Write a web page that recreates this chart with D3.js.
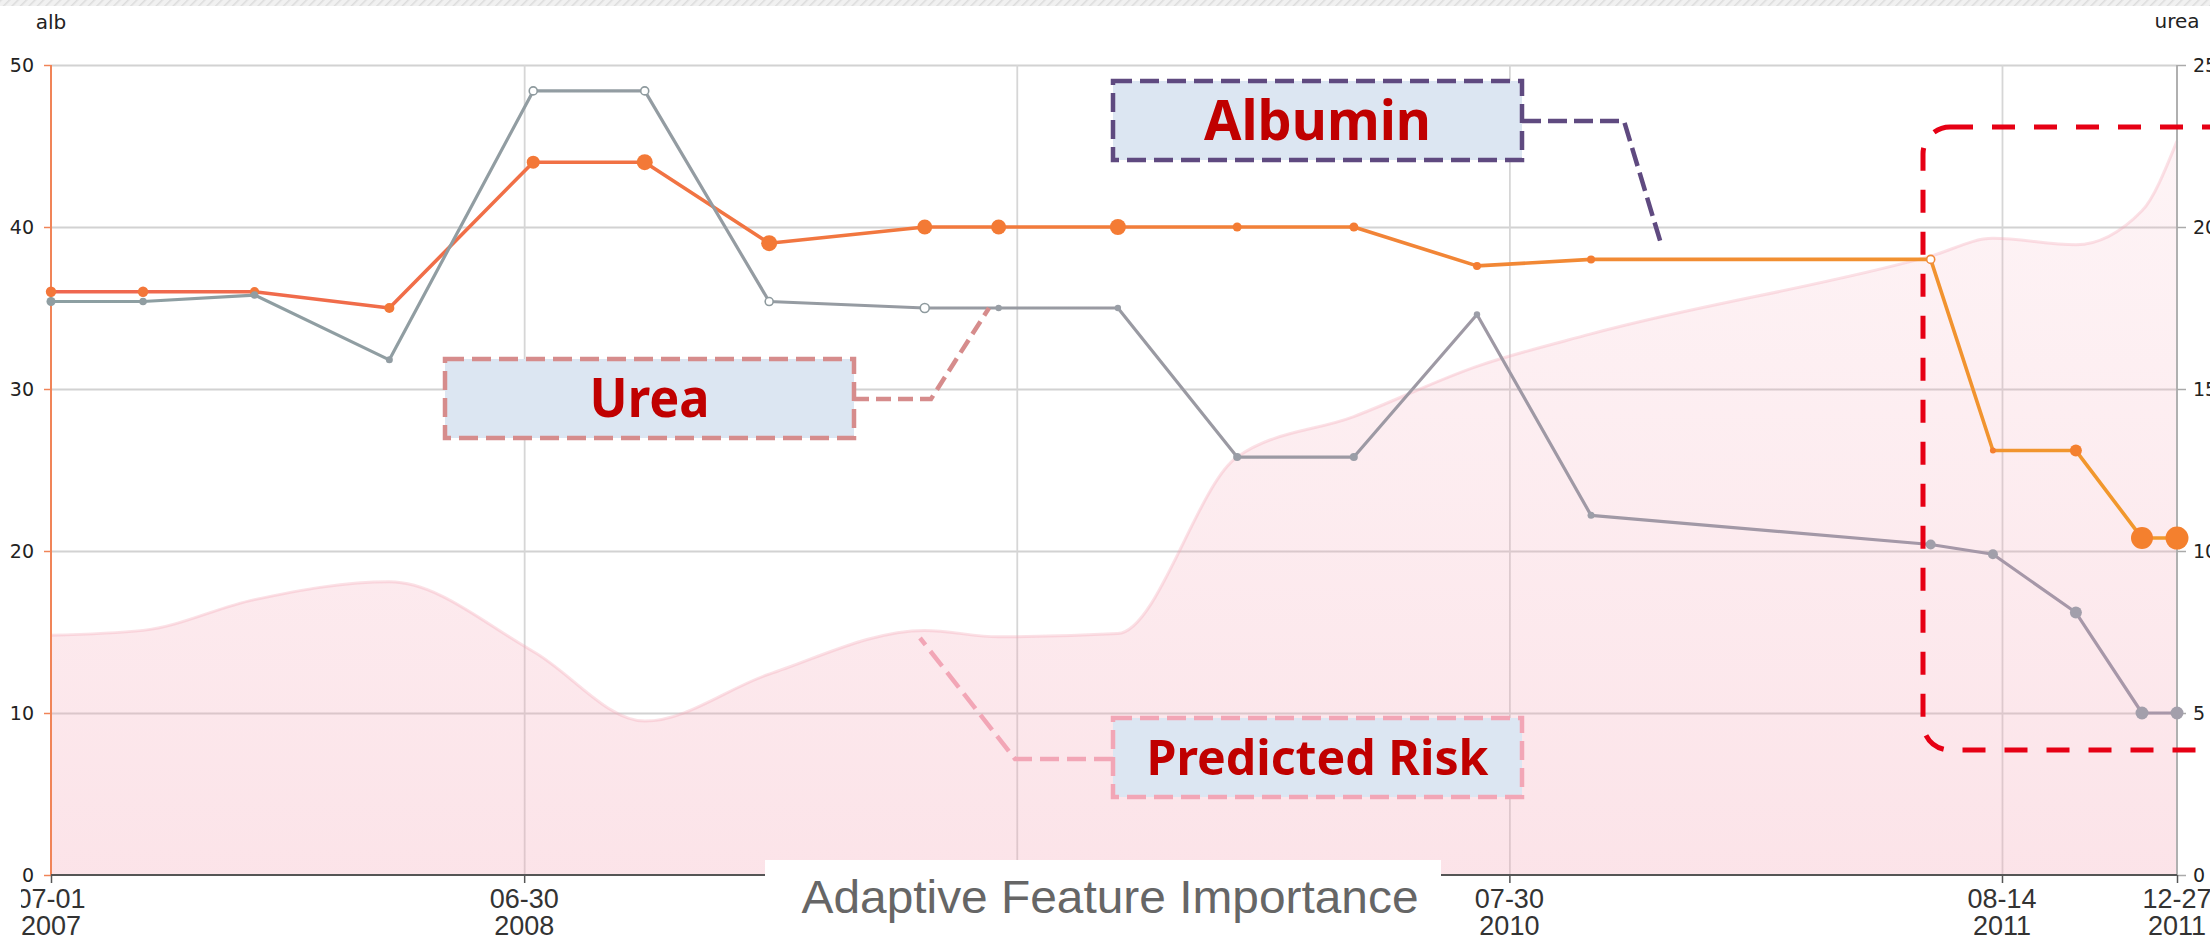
<!DOCTYPE html>
<html><head><meta charset="utf-8">
<script src="https://cdn.jsdelivr.net/npm/d3@7/dist/d3.min.js"></script>
<style>html,body{margin:0;padding:0;background:#fff;overflow:hidden}</style>
</head><body><svg id="c" width="2210" height="937"></svg>
<script>
// ---------------- data ----------------
const dates = ["2007-07-01","2007-09-10","2007-12-05","2008-03-18","2008-07-07","2008-10-01","2009-01-05","2009-05-05","2009-07-01","2009-10-01","2010-01-01","2010-04-01","2010-07-05","2010-10-01","2011-06-20","2011-08-07","2011-10-10","2011-11-30","2011-12-27"];
const albumin = [36, 36, 36, 35, 44, 44, 39, 40, 40, 40, 40, 40, 37.6, 38, 38, 26.2, 26.2, 20.8, 20.8];
const urea = [17.7, 17.7, 17.9, 15.9, 24.2, 24.2, 17.7, 17.5, 17.5, 17.5, 12.9, 12.9, 17.3, 11.1, 10.2, 9.9, 8.1, 5.0, 5.0];
const risk = [14.8, 15.1, 17.0, 18.1, 13.8, 9.5, 12.4, 15.1, 14.7, 14.9, 25.8, 28.3, 31.4, 33.4, 38.2, 39.3, 38.9, 41.0, 45.3];
const albImportance = [5.2, 5.2, 4.7, 5, 6.5, 8, 8, 7.5, 7.5, 8, 4.5, 4.5, 4, 4, 4, 3, 6, 11, 11.5];
const ureaImportance = [4.5, 3.8, 3.8, 3.5, 4, 4, 4, 4.5, 3.2, 3.2, 4, 4, 3.2, 3.5, 5, 5, 6, 6.5, 6.5];
const albImputed = [false,false,false,false,false,false,false,false,false,false,false,false,false,false,true,false,false,false,false];
const ureaImputed = [false,false,false,false,true,true,true,true,false,false,false,false,false,false,false,false,false,false,false];
const tickDates = ["2007-07-01","2008-06-30","2009-07-15","2010-07-30","2011-08-14","2011-12-27"];
const hiddenTick = "2009-07-15"; // its label lies under the title box
const leftTicks = [0, 10, 20, 30, 40, 50];
const rightTicks = [0, 5, 10, 15, 20, 25];
const leftName = "alb", rightName = "urea";
const title = "Adaptive Feature Importance";
const notes = ["Albumin", "Urea", "Predicted Risk"];

// ---------------- layout ----------------
const L = 51, R = 2177, T = 65, B = 875;
const parse = d3.timeParse("%Y-%m-%d");
const pts = dates.map((d, i) => ({date: parse(d), alb: albumin[i], urea: urea[i], risk: risk[i],
  as: albImportance[i], us: ureaImportance[i], ah: albImputed[i], uh: ureaImputed[i]}));
const x = d3.scaleTime().domain([parse(tickDates[0]), parse(tickDates[tickDates.length - 1])]).range([L, R]);
const yL = d3.scaleLinear().domain([0, 50]).range([B, T]);
const yR = d3.scaleLinear().domain([0, 25]).range([B, T]);

const svg = d3.select("#c");
const defs = svg.append("defs");

const pat = defs.append("pattern").attr("id", "hatch").attr("patternUnits", "userSpaceOnUse")
  .attr("width", 6).attr("height", 6).attr("patternTransform", "rotate(45)");
pat.append("rect").attr("width", 6).attr("height", 6).attr("fill", "#f1f1f1");
pat.append("line").attr("x1", 0).attr("y1", 0).attr("x2", 0).attr("y2", 6).attr("stroke", "#dcdcdc").attr("stroke-width", 3);

function grad(id, stops, vertical) {
  const g = defs.append("linearGradient").attr("id", id).attr("gradientUnits", "userSpaceOnUse");
  if (vertical) g.attr("x1", 0).attr("x2", 0).attr("y1", T).attr("y2", B);
  else g.attr("x1", L).attr("x2", R).attr("y1", 0).attr("y2", 0);
  stops.forEach(s => g.append("stop").attr("offset", s[0]).attr("stop-color", s[1]).attr("stop-opacity", s[2] == null ? 1 : s[2]));
}
grad("albG", [[0, "#ef6650"], [0.45, "#f27a3c"], [1, "#f1992c"]]);
grad("ureaG", [[0, "#8c9fa2"], [0.5, "#999aa2"], [1, "#a897a9"]]);
grad("riskG", [[0, "#f4a3b4", 0.10], [0.5, "#f4a3b4", 0.20], [1, "#f4a3b4", 0.30]], true);

const clip = defs.append("clipPath").attr("id", "xclip");
clip.append("rect").attr("x", 21).attr("y", 876).attr("width", 2189).attr("height", 70);

svg.append("rect").attr("x", 0).attr("y", 0).attr("width", 2210).attr("height", 6).attr("fill", "url(#hatch)");

// ---------------- grid ----------------
const gGrid = svg.append("g");
gGrid.append("g").attr("transform", `translate(${L},0)`)
  .call(d3.axisLeft(yL).tickValues(leftTicks.filter(v => v > 0)).tickSize(-(R - L)).tickFormat(""))
  .call(g => g.select(".domain").remove())
  .call(g => g.selectAll("line").attr("stroke", "#d2d2d2").attr("stroke-width", 2));
gGrid.append("g").attr("transform", `translate(0,${T})`)
  .call(d3.axisBottom(x).tickValues(tickDates.slice(1, -1).map(parse)).tickSize(B - T).tickFormat(""))
  .call(g => g.select(".domain").remove())
  .call(g => g.selectAll("line").attr("stroke", "#d6d6d6").attr("stroke-width", 1.8));

// ---------------- risk area ----------------
const area = d3.area().x(d => x(d.date)).y0(B).y1(d => yL(d.risk)).curve(d3.curveMonotoneX);
svg.append("path").datum(pts).attr("d", area).attr("fill", "url(#riskG)");
svg.append("path").datum(pts).attr("d", area.lineY1()).attr("fill", "none")
  .attr("stroke", "#f4a8b8").attr("stroke-opacity", 0.35).attr("stroke-width", 3);

// ---------------- axes ----------------
const axL = svg.append("g").attr("transform", `translate(${L},0)`)
  .call(d3.axisLeft(yL).tickValues(leftTicks).tickSize(7).tickPadding(10).tickFormat(d3.format("d")));
axL.select(".domain").attr("stroke", "#f08458").attr("stroke-width", 2).attr("d", `M0,${T}V${B}`);
axL.selectAll(".tick line").attr("stroke", "#f08458").attr("stroke-width", 1.5);
axL.selectAll(".tick text").attr("font-family", "DejaVu Sans, sans-serif").attr("font-size", 19).attr("fill", "#222").attr("dy", "0.35em");

const axR = svg.append("g").attr("transform", `translate(${R},0)`)
  .call(d3.axisRight(yR).tickValues(rightTicks).tickSize(9).tickPadding(7).tickFormat(d3.format("d")));
axR.select(".domain").attr("stroke", "#b0b0b0").attr("stroke-width", 2).attr("d", `M0,${T}V${B}`);
axR.selectAll(".tick line").attr("stroke", "#aaa").attr("stroke-width", 1.5);
axR.selectAll(".tick text").attr("font-family", "DejaVu Sans, sans-serif").attr("font-size", 19).attr("fill", "#222").attr("dy", "0.35em");

const axB = svg.append("g").attr("transform", `translate(0,${B})`)
  .call(d3.axisBottom(x).tickValues(tickDates.map(parse)).tickSize(8).tickFormat(""));
axB.select(".domain").attr("stroke", "#555").attr("stroke-width", 2).attr("d", `M${L},0H${R}`);
axB.selectAll(".tick line").attr("stroke", "#555").attr("stroke-width", 1.5);
const xl = svg.append("g").attr("clip-path", "url(#xclip)").attr("font-family", "Liberation Sans, Arial, sans-serif")
  .attr("font-size", 27).attr("fill", "#333").attr("text-anchor", "middle");
tickDates.filter(d => d !== hiddenTick).map(parse).forEach(d => {
  const t = xl.append("text").attr("x", x(d));
  t.append("tspan").attr("x", x(d)).attr("y", 908).text(d3.timeFormat("%m-%d")(d));
  t.append("tspan").attr("x", x(d)).attr("y", 935).text(d3.timeFormat("%Y")(d));
});

svg.append("text").attr("x", L).attr("y", 29).attr("text-anchor", "middle").attr("font-family", "DejaVu Sans, sans-serif")
  .attr("font-size", 20).attr("fill", "#222").text(leftName);
svg.append("text").attr("x", R).attr("y", 28).attr("text-anchor", "middle").attr("font-family", "DejaVu Sans, sans-serif")
  .attr("font-size", 20).attr("fill", "#222").text(rightName);

// ---------------- lines ----------------
const lineA = d3.line().x(d => x(d.date)).y(d => yL(d.alb));
const lineU = d3.line().x(d => x(d.date)).y(d => yR(d.urea));
svg.append("path").datum(pts).attr("d", lineA).attr("fill", "none").attr("stroke", "url(#albG)").attr("stroke-width", 3.6).attr("stroke-linejoin", "round");
const ucol = d3.interpolateRgb("#8f9da1", "#a39fab");
const acol = d3.interpolateRgb("#f3763a", "#f4802e");
svg.append("g").selectAll("circle").data(pts).join("circle")
  .attr("cx", d => x(d.date)).attr("cy", d => yL(d.alb)).attr("r", d => d.ah ? 4 : d.as)
  .attr("fill", d => d.ah ? "#fff" : acol((x(d.date) - L) / (R - L)))
  .attr("stroke", d => d.ah ? "#f08a3a" : "none").attr("stroke-width", 1.6);

svg.append("path").datum(pts).attr("d", lineU).attr("fill", "none").attr("stroke", "url(#ureaG)").attr("stroke-width", 3.2).attr("stroke-linejoin", "round");
svg.append("g").selectAll("circle").data(pts).join("circle")
  .attr("cx", d => x(d.date)).attr("cy", d => yR(d.urea)).attr("r", d => d.us)
  .attr("fill", d => d.uh ? "#fff" : ucol((x(d.date) - L) / (R - L)))
  .attr("stroke", d => d.uh ? "#8e9a9e" : "none").attr("stroke-width", 1.6);

// ---------------- annotations ----------------
function callout(box, txt, color, dash, path, txtLen, fsize, baseline) {
  svg.append("path").attr("d", path).attr("fill", "none").attr("stroke", color).attr("stroke-width", 4.5).attr("stroke-dasharray", dash);
  svg.append("rect").attr("x", box[0]).attr("y", box[1]).attr("width", box[2]).attr("height", box[3])
    .attr("fill", "#dce6f2").attr("stroke", color).attr("stroke-width", 4.5).attr("stroke-dasharray", "19 8");
  svg.append("text").attr("x", box[0] + box[2] / 2).attr("y", baseline).attr("text-anchor", "middle")
    .attr("font-family", "Noto Sans, Open Sans, sans-serif").attr("font-weight", "bold").attr("font-size", fsize)
    .attr("fill", "#c00000").attr("textLength", txtLen).attr("lengthAdjust", "spacingAndGlyphs").text(txt);
}
callout([1113, 81, 409, 79], notes[0], "#5f4a80", "19 7", "M1522,121L1624,121L1662,247", 227, 56, 140);
callout([445, 359, 409, 79], notes[1], "#d68c8c", "15 7", "M854,399L931,399L989,308", 120, 54, 417);
callout([1113, 718, 409, 79], notes[2], "#f2a6b6", "19 8", "M1113,759L1015,759L920,638", 342, 49, 775);

svg.append("rect").attr("x", 1923).attr("y", 127).attr("width", 312).attr("height", 623).attr("rx", 27)
  .attr("fill", "none").attr("stroke", "#e60014").attr("stroke-width", 5).attr("stroke-dasharray", "23 19");

svg.append("rect").attr("x", 765).attr("y", 860).attr("width", 676).attr("height", 80).attr("fill", "#fff");
svg.append("text").attr("x", 1110).attr("y", 913).attr("text-anchor", "middle")
  .attr("font-family", "Liberation Sans, Arial, sans-serif").attr("font-size", 46).attr("fill", "#666")
  .attr("textLength", 617).attr("lengthAdjust", "spacingAndGlyphs").text(title);
</script></body></html>
